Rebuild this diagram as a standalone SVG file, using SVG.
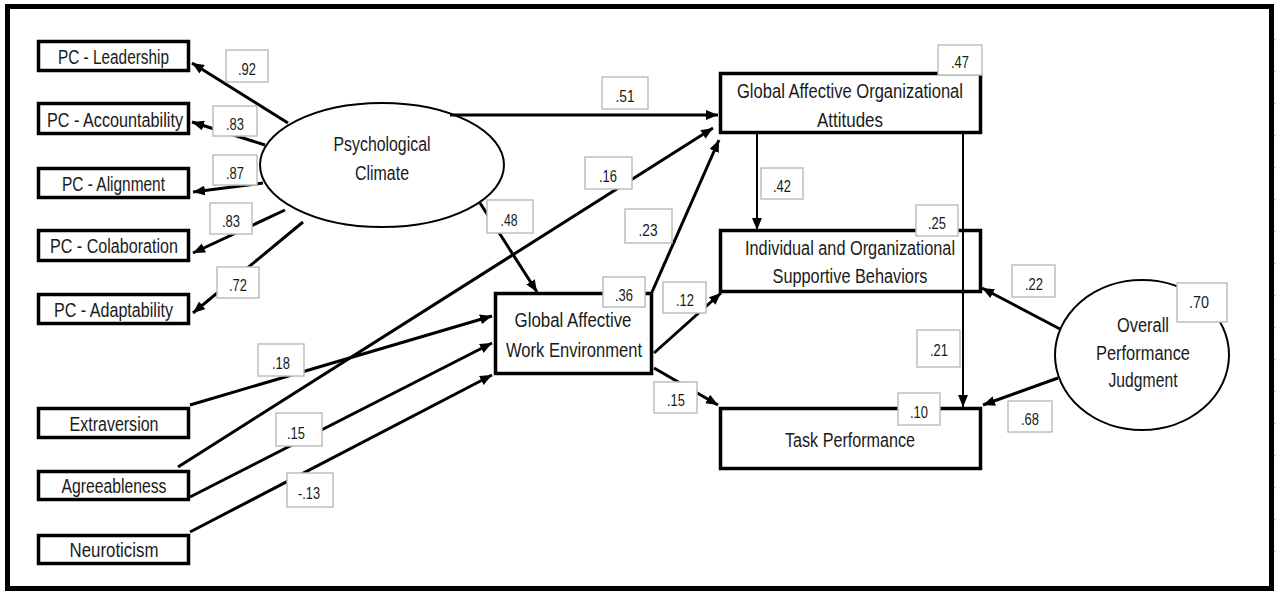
<svg xmlns="http://www.w3.org/2000/svg" width="1275" height="599" viewBox="0 0 1275 599">
<style>
.box{fill:#fff;stroke:#000;stroke-width:3.5}
.ell{fill:#fff;stroke:#000;stroke-width:2}
.t{font-family:"Liberation Sans",Arial,sans-serif;font-size:20px;fill:#1a1a1a;text-anchor:middle}
.n{font-family:"Liberation Sans",Arial,sans-serif;font-size:16px;fill:#1a1a1a;text-anchor:middle}
.lb{fill:#fff;stroke:#bfbfbf;stroke-width:1.5}
.c{fill:none;stroke:#000;stroke-width:3;marker-end:url(#ah)}
.c2{fill:none;stroke:#000;stroke-width:2;marker-end:url(#ah)}
</style>
<defs>
<marker id="ah" markerUnits="userSpaceOnUse" markerWidth="13" markerHeight="10" refX="12" refY="5" orient="auto">
<path d="M0,0 L12,5 L0,10 z" fill="#000"/>
</marker>
</defs>
<rect x="0" y="0" width="1275" height="599" fill="#fff"/>
<rect id="frame" x="7.5" y="6.5" width="1264" height="582" fill="none" stroke="#000" stroke-width="5"/>
<line x1="1274.5" y1="39" x2="1274.5" y2="580" stroke="#9a9a9a" stroke-width="1.5" stroke-dasharray="1.5 30.5"/>

<g id="nodes">
<g id="pc-leadership"><rect class="box" x="38.5" y="41.5" width="150" height="29"/><text class="t" x="113.5" y="64" textLength="111" lengthAdjust="spacingAndGlyphs">PC - Leadership</text></g>
<g id="pc-accountability"><rect class="box" x="38.5" y="103.5" width="150" height="30"/><text class="t" x="115" y="127" textLength="136" lengthAdjust="spacingAndGlyphs">PC - Accountability</text></g>
<g id="pc-alignment"><rect class="box" x="38.5" y="168.5" width="150" height="29"/><text class="t" x="113.5" y="191" textLength="103" lengthAdjust="spacingAndGlyphs">PC - Alignment</text></g>
<g id="pc-colaboration"><rect class="box" x="38.5" y="230.5" width="150" height="30"/><text class="t" x="114" y="253" textLength="128" lengthAdjust="spacingAndGlyphs">PC - Colaboration</text></g>
<g id="pc-adaptability"><rect class="box" x="38.5" y="294.5" width="150" height="29"/><text class="t" x="113.5" y="317" textLength="119" lengthAdjust="spacingAndGlyphs">PC - Adaptability</text></g>
<g id="extraversion"><rect class="box" x="38.5" y="408.5" width="150" height="29"/><text class="t" x="114" y="431" textLength="89" lengthAdjust="spacingAndGlyphs">Extraversion</text></g>
<g id="agreeableness"><rect class="box" x="38.5" y="471.5" width="150" height="28"/><text class="t" x="114" y="493" textLength="105" lengthAdjust="spacingAndGlyphs">Agreeableness</text></g>
<g id="neuroticism"><rect class="box" x="38.5" y="535.5" width="150" height="28"/><text class="t" x="114" y="557" textLength="89" lengthAdjust="spacingAndGlyphs">Neuroticism</text></g>
<g id="psychological-climate"><ellipse class="ell" cx="382" cy="165" rx="122" ry="62"/><text class="t" x="382" y="151" textLength="97" lengthAdjust="spacingAndGlyphs">Psychological</text><text class="t" x="382" y="180" textLength="54" lengthAdjust="spacingAndGlyphs">Climate</text></g>
<g id="gawe"><rect class="box" x="495.5" y="293.5" width="156" height="80"/><text class="t" x="573" y="327" textLength="117" lengthAdjust="spacingAndGlyphs">Global Affective</text><text class="t" x="574" y="357" textLength="136" lengthAdjust="spacingAndGlyphs">Work Environment</text></g>
<g id="gaoa"><rect class="box" x="720.5" y="73.5" width="260" height="59"/><text class="t" x="850" y="98" textLength="226" lengthAdjust="spacingAndGlyphs">Global Affective Organizational</text><text class="t" x="850" y="127" textLength="66" lengthAdjust="spacingAndGlyphs">Attitudes</text></g>
<g id="iosb"><rect class="box" x="720.5" y="230.5" width="260" height="61"/><text class="t" x="850" y="255" textLength="210" lengthAdjust="spacingAndGlyphs">Individual and Organizational</text><text class="t" x="850" y="283" textLength="155" lengthAdjust="spacingAndGlyphs">Supportive Behaviors</text></g>
<g id="task-performance"><rect class="box" x="720.5" y="408.5" width="260" height="60"/><text class="t" x="850" y="447" textLength="130" lengthAdjust="spacingAndGlyphs">Task Performance</text></g>
<g id="opj"><ellipse class="ell" cx="1142" cy="355" rx="87" ry="75"/><text class="t" x="1143" y="332" textLength="52" lengthAdjust="spacingAndGlyphs">Overall</text><text class="t" x="1143" y="360" textLength="94" lengthAdjust="spacingAndGlyphs">Performance</text><text class="t" x="1143" y="387" textLength="69" lengthAdjust="spacingAndGlyphs">Judgment</text></g>
</g>

<g id="connectors">
<line class="c" x1="288" y1="123" x2="192" y2="63"/>
<line class="c" x1="265" y1="145" x2="192" y2="122"/>
<line class="c" x1="263" y1="183" x2="193" y2="192"/>
<line class="c" x1="285" y1="210" x2="193" y2="253"/>
<line class="c" x1="303" y1="222" x2="193" y2="313"/>
<line class="c" x1="450" y1="115" x2="718" y2="115"/>
<line class="c" x1="178" y1="467" x2="713" y2="128"/>
<line class="c" x1="652" y1="292" x2="719" y2="140"/>
<line class="c" x1="480" y1="203" x2="537" y2="292"/>
<line class="c" x1="190" y1="405" x2="492" y2="316"/>
<line class="c" x1="190" y1="497" x2="492" y2="343"/>
<line class="c" x1="190" y1="532" x2="492" y2="375"/>
<line class="c" x1="654" y1="353" x2="721" y2="293"/>
<line class="c" x1="654" y1="368" x2="718" y2="405"/>
<line class="c2" x1="757" y1="134" x2="757" y2="230"/>
<line class="c2" x1="963" y1="134" x2="963" y2="407"/>
<line class="c" x1="1060" y1="329" x2="982" y2="288"/>
<line class="c" x1="1058" y1="378" x2="983" y2="405"/>
</g>

<g id="labels">
<g><rect class="lb" x="226" y="50" width="42" height="32"/><text class="n" x="247" y="75" textLength="18" lengthAdjust="spacingAndGlyphs">.92</text></g>
<g><rect class="lb" x="213" y="106" width="44" height="30"/><text class="n" x="235" y="130" textLength="18" lengthAdjust="spacingAndGlyphs">.83</text></g>
<g><rect class="lb" x="213" y="155" width="44" height="30"/><text class="n" x="235" y="179" textLength="18" lengthAdjust="spacingAndGlyphs">.87</text></g>
<g><rect class="lb" x="210" y="203" width="42" height="31"/><text class="n" x="231" y="227" textLength="18" lengthAdjust="spacingAndGlyphs">.83</text></g>
<g><rect class="lb" x="217" y="267" width="42" height="31"/><text class="n" x="238" y="291" textLength="18" lengthAdjust="spacingAndGlyphs">.72</text></g>
<g><rect class="lb" x="258" y="344" width="46" height="32"/><text class="n" x="281" y="369" textLength="18" lengthAdjust="spacingAndGlyphs">.18</text></g>
<g><rect class="lb" x="276" y="413" width="46" height="33"/><text class="n" x="296" y="439" textLength="18" lengthAdjust="spacingAndGlyphs">.15</text></g>
<g><rect class="lb" x="287" y="473" width="46" height="34"/><text class="n" x="309" y="499" textLength="22" lengthAdjust="spacingAndGlyphs">-.13</text></g>
<g><rect class="lb" x="602" y="77" width="46" height="32"/><text class="n" x="625" y="102" textLength="19" lengthAdjust="spacingAndGlyphs">.51</text></g>
<g><rect class="lb" x="585" y="157" width="47" height="32"/><text class="n" x="608" y="182" textLength="18" lengthAdjust="spacingAndGlyphs">.16</text></g>
<g><rect class="lb" x="487" y="200" width="46" height="33"/><text class="n" x="509" y="226" textLength="17" lengthAdjust="spacingAndGlyphs">.48</text></g>
<g><rect class="lb" x="625" y="209" width="47" height="34"/><text class="n" x="648" y="236" textLength="19" lengthAdjust="spacingAndGlyphs">.23</text></g>
<g><rect class="lb" x="603" y="277" width="42" height="30"/><text class="n" x="624" y="301" textLength="18" lengthAdjust="spacingAndGlyphs">.36</text></g>
<g><rect class="lb" x="663" y="282" width="43" height="31"/><text class="n" x="685" y="306" textLength="18" lengthAdjust="spacingAndGlyphs">.12</text></g>
<g><rect class="lb" x="654" y="382" width="43" height="31"/><text class="n" x="676" y="406" textLength="18" lengthAdjust="spacingAndGlyphs">.15</text></g>
<g><rect class="lb" x="938" y="45" width="44" height="30"/><text class="n" x="960" y="68" textLength="18" lengthAdjust="spacingAndGlyphs">.47</text></g>
<g><rect class="lb" x="761" y="168" width="42" height="31"/><text class="n" x="782" y="192" textLength="18" lengthAdjust="spacingAndGlyphs">.42</text></g>
<g><rect class="lb" x="916" y="205" width="42" height="31"/><text class="n" x="937" y="229" textLength="18" lengthAdjust="spacingAndGlyphs">.25</text></g>
<g><rect class="lb" x="917" y="330" width="43" height="37"/><text class="n" x="939" y="356" textLength="18" lengthAdjust="spacingAndGlyphs">.21</text></g>
<g><rect class="lb" x="898" y="393" width="42" height="32"/><text class="n" x="919" y="418" textLength="18" lengthAdjust="spacingAndGlyphs">.10</text></g>
<g><rect class="lb" x="1177" y="283" width="50" height="39"/><text class="n" x="1199" y="308" textLength="20" lengthAdjust="spacingAndGlyphs">.70</text></g>
<g><rect class="lb" x="1012" y="265" width="43" height="32"/><text class="n" x="1034" y="290" textLength="18" lengthAdjust="spacingAndGlyphs">.22</text></g>
<g><rect class="lb" x="1008" y="401" width="44" height="31"/><text class="n" x="1030" y="425" textLength="18" lengthAdjust="spacingAndGlyphs">.68</text></g>
</g>
</svg>
